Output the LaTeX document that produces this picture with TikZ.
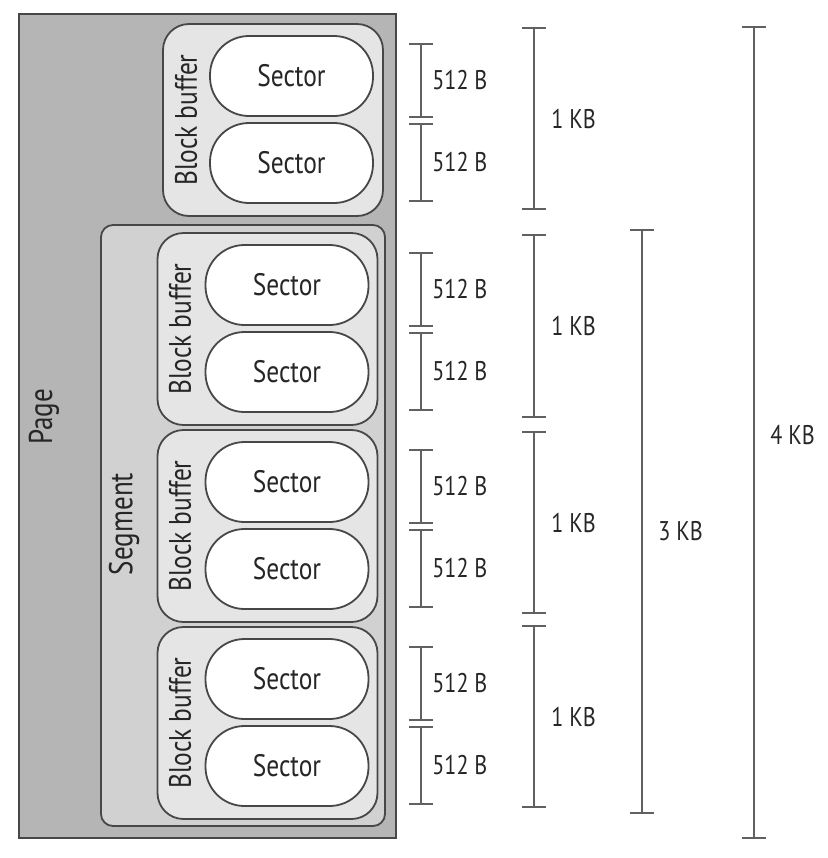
\documentclass[tikz,border=0pt]{standalone}
\usepackage{fontspec}
\setmainfont{PT Sans}[FakeStretch=0.82]
\begin{document}
\begin{tikzpicture}[x=0.5pt,y=-0.5pt,
  ink/.style={draw=black!72, line width=0.9pt},
  pagebox/.style={ink, fill=black!29, minimum width=188.5pt, minimum height=412pt, inner sep=0pt},
  segbox/.style={ink, fill=black!18, rounded corners=6pt, minimum width=142pt, minimum height=300.5pt, inner sep=0pt},
  blockbox/.style={ink, fill=black!10, rounded corners=13pt, minimum width=110pt, minimum height=96pt, inner sep=0pt},
  sectorbox/.style={ink, fill=white, rounded corners=19.5pt, minimum width=81.5pt, minimum height=40pt, inner sep=0pt,
    font=\fontsize{15.5}{17}\selectfont, text=black!85},
  vlabel/.style={rotate=90, font=\fontsize{15.5}{17}\selectfont, text=black!85},
  biglabel/.style={rotate=90, font=\fontsize{16.5}{18}\selectfont, text=black!85},
  dimlabel/.style={anchor=west, font=\fontsize{13.5}{15}\selectfont, text=black!85, inner sep=0pt},
  dim/.style={draw=black!62, line width=0.9pt},
  tick/.style={draw=black!62, line width=0.9pt}
]
\useasboundingbox (0,0) rectangle (828,858);

% nested containers
\node[pagebox] (page) at (207.5,426) {};
\node[biglabel] (pagelbl) at (44,417) {Page};
\node[segbox] (seg) at (243,525.5) {};
\node[biglabel] (seglbl) at (124,524) {Segment};

% block buffers with two sectors each
\node[blockbox] (b0) at (273,120) {};
\node[vlabel] (b0lbl) at (186,120) {Block buffer};
\node[sectorbox] (s0a) at (291.5,76) {Sector};
\node[sectorbox] (s0b) at (291.5,163) {Sector};

\foreach \i/\t in {1/233,2/430,3/627}{
  \node[blockbox] (b\i) at (267.5,\t+96) {};
  \node[vlabel] (b\i lbl) at (180,\t+96) {Block buffer};
  \node[sectorbox] (s\i a) at (287,\t+52) {Sector};
  \node[sectorbox] (s\i b) at (287,\t+139) {Sector};
}

% 512 B extents, one pair per block buffer
\foreach \i/\t in {0/24,1/233,2/430,3/627}{
  \coordinate (h\i a1) at (421,\t+20);
  \coordinate (h\i a2) at (421,\t+93);
  \coordinate (h\i b1) at (421,\t+100);
  \coordinate (h\i b2) at (421,\t+177);
  \draw[dim] (h\i a1) -- (h\i a2);
  \draw[dim] (h\i b1) -- (h\i b2);
  \foreach \c in {a1,a2,b1,b2}{
    \draw[tick] ([xshift=-6pt]h\i\c) -- ([xshift=6pt]h\i\c);
  }
  \node[dimlabel] (h\i alb) at (432,\t+56.5) {512 B};
  \node[dimlabel] (h\i blb) at (432,\t+138.5) {512 B};
}

% 1 KB extents
\foreach \i/\p/\q in {0/28/209,1/235/417,2/432/613,3/626/807}{
  \coordinate (k\i top) at (534,\p);
  \coordinate (k\i bot) at (534,\q);
  \draw[dim] (k\i top) -- (k\i bot);
  \draw[tick] ([xshift=-6pt]k\i top) -- ([xshift=6pt]k\i top);
  \draw[tick] ([xshift=-6pt]k\i bot) -- ([xshift=6pt]k\i bot);
  \node[dimlabel] (k\i lb) at (551,{(\p+\q)/2}) {1 KB};
}

% 3 KB extent
\coordinate (t3top) at (642,230);
\coordinate (t3bot) at (642,813);
\draw[dim] (t3top) -- (t3bot);
\draw[tick] ([xshift=-6pt]t3top) -- ([xshift=6pt]t3top);
\draw[tick] ([xshift=-6pt]t3bot) -- ([xshift=6pt]t3bot);
\node[dimlabel] (t3lb) at (658,531) {3 KB};

% 4 KB extent
\coordinate (f4top) at (754,27);
\coordinate (f4bot) at (754,838);
\draw[dim] (f4top) -- (f4bot);
\draw[tick] ([xshift=-6pt]f4top) -- ([xshift=6pt]f4top);
\draw[tick] ([xshift=-6pt]f4bot) -- ([xshift=6pt]f4bot);
\node[dimlabel] (f4lb) at (770,435) {4 KB};
\end{tikzpicture}
\end{document}
